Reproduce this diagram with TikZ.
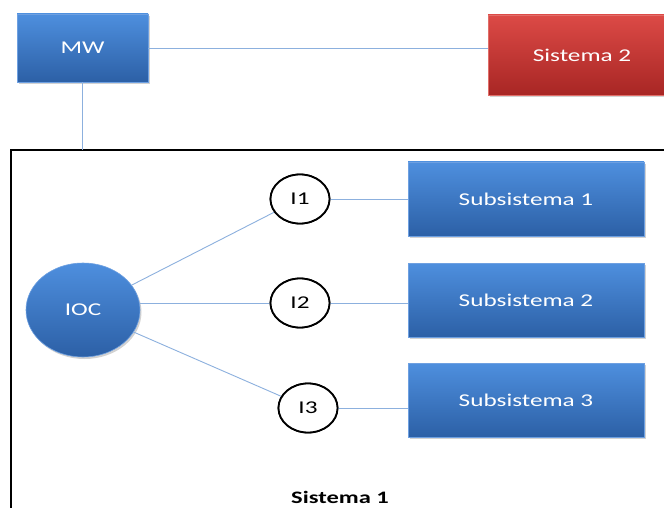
\documentclass[tikz,border=0pt]{standalone}
\usepackage{fontspec}
\setmainfont{Carlito}
\usetikzlibrary{shapes.geometric,shadows}

\definecolor{boxtop}{RGB}{78,143,222}
\definecolor{boxbot}{RGB}{44,96,166}
\definecolor{boxedge}{RGB}{110,160,225}
\definecolor{redtop}{RGB}{220,74,70}
\definecolor{redbot}{RGB}{168,38,36}
\definecolor{rededge}{RGB}{225,110,105}
\definecolor{linkblue}{RGB}{140,176,222}

% wide lettering used for all labels
\newcommand{\wtext}[1]{\scalebox{1.4}[1]{#1}}

\begin{document}
\begin{tikzpicture}[x=1pt,y=-1pt,
  lbl/.style={font=\fontsize{18}{20}\selectfont},
  solidbox/.style={rectangle, inner sep=0pt, line width=0.6pt,
    drop shadow={opacity=0.35, shadow xshift=1.5pt, shadow yshift=-2pt},
    text=white, lbl},
  bluebox/.style={solidbox, top color=boxtop, bottom color=boxbot, draw=boxedge},
  redbox/.style={solidbox, top color=redtop, bottom color=redbot, draw=rededge},
  iface/.style={ellipse, draw=black, line width=1.8pt, fill=white,
    minimum width=59pt, minimum height=49pt, inner sep=0pt, lbl},
  link/.style={draw=linkblue, line width=0.9pt},
  frame/.style={draw=black, line width=2pt}]

\useasboundingbox (0,0) rectangle (664,508);
\clip (0,0) rectangle (664,508);
\fill[white] (0,0) rectangle (664,508);

% outer system frame
\coordinate (ftl) at (11,150);
\coordinate (fbr) at (720,600);
\draw[frame] (ftl) rectangle (fbr);

% top row
\node[bluebox, minimum width=131pt, minimum height=68pt] (mw) at (82.5,48) {\wtext{MW}};
\node[redbox, minimum width=188pt, minimum height=80pt] (sys2) at (582,55) {\wtext{Sistema 2}};

% inside the frame
\node[ellipse, inner sep=0pt, minimum width=114pt, minimum height=94pt,
      top color=boxtop, bottom color=boxbot, draw=boxedge, line width=0.6pt,
      drop shadow={opacity=0.35, shadow xshift=1.5pt, shadow yshift=-2pt},
      text=white, lbl] (ioc) at (83,310) {\wtext{IOC}};

\node[iface] (i1) at (300,199) {\wtext{I1}};
\node[iface] (i2) at (300,303) {\wtext{I2}};
\node[iface] (i3) at (308,408) {\wtext{I3}};

\node[bluebox, minimum width=236pt, minimum height=74pt] (s1) at (526,199) {\wtext{Subsistema 1}};
\node[bluebox, minimum width=236pt, minimum height=74pt] (s2) at (526,300) {\wtext{Subsistema 2}};
\node[bluebox, minimum width=236pt, minimum height=74pt] (s3) at (526,400) {\wtext{Subsistema 3}};

\node[font=\fontsize{17.5}{20}\selectfont\bfseries] (lab1) at (340,497) {\wtext{Sistema 1}};

% connectors
\draw[link] (mw.east) -- (mw.east -| sys2.west);
\draw[link] (mw.south) -- (mw.south |- ftl);
\draw[link] (ioc) -- (i1);
\draw[link] (i2.west -| ioc.east) -- (i2.west);
\draw[link] (ioc) -- (i3);
\draw[link] (i1) -- (s1);
\draw[link] (i2.east) -- (i2.east -| s2.west);
\draw[link] (i3.east) -- (i3.east -| s3.west);

% redraw nodes on top of the connectors
\node[iface] at (i1) {\wtext{I1}};
\node[iface] at (i2) {\wtext{I2}};
\node[iface] at (i3) {\wtext{I3}};
\end{tikzpicture}
\end{document}
